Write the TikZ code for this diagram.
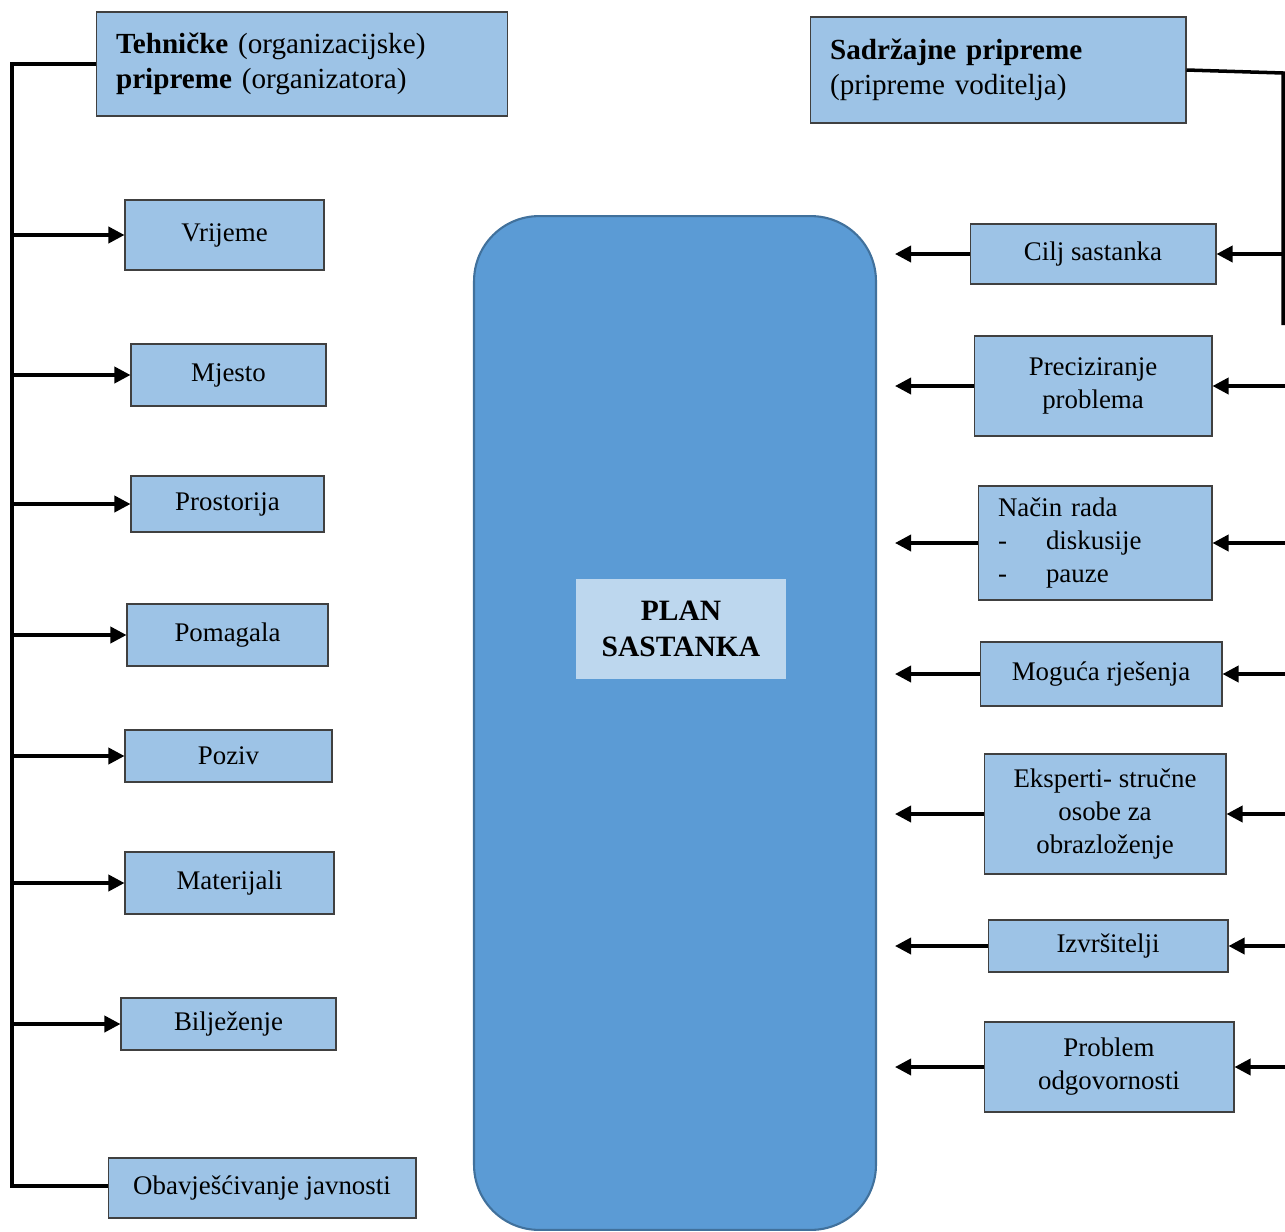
\documentclass[tikz,border=0pt]{standalone}
\usepackage{fontspec}
\setmainfont{Liberation Serif}
\usetikzlibrary{arrows.meta,calc,positioning}

\definecolor{boxblue}{HTML}{9DC3E6}
\definecolor{bigblue}{HTML}{5B9BD5}
\definecolor{bigrim}{HTML}{41719C}
\definecolor{planlight}{HTML}{BDD7EE}

\begin{document}
\begin{tikzpicture}
  [
    x=0.02cm, y=-0.02cm,
    every node/.style={font=\fontsize{15.3}{18.8}\selectfont},
    box/.style  = {draw=black!75, line width=0.6pt, fill=boxblue, align=center, inner sep=0pt},
    head/.style = {box, align=left, font=\fontsize{16.6}{20}\selectfont},
    arr/.style  = {line width=2pt, -{Triangle[length=0.32cm,width=0.32cm]}},
    lin/.style  = {line width=2pt},
  ]

  \useasboundingbox (0,0) rectangle (1285,1231);

  % the plan in the middle
  \node (plan) at (675,723) [draw=bigrim, fill=bigblue, line width=1.2pt, rounded corners=1.3cm,
        minimum width=8.04cm, minimum height=20.28cm] {};
  \node (plantxt) at (681,629) [fill=planlight, minimum width=4.2cm, minimum height=2cm,
        align=center, font=\fontsize{16.8}{20.5}\bfseries] {PLAN\\SASTANKA};

  % left column
  \node (tehn) at (302,64) [head, minimum width=8.24cm, minimum height=2.08cm, text width=7.44cm]
        {\textbf{Tehničke} (organizacijske)\\ \textbf{pripreme} (organizatora)};
  \node (vrijeme)    at (224.5,235)  [box, minimum width=3.98cm, minimum height=1.4cm]  {Vrijeme};
  \node (mjesto)     at (228.5,375)  [box, minimum width=3.9cm,  minimum height=1.24cm] {Mjesto};
  \node (prostorija) at (227.5,504)  [box, minimum width=3.86cm, minimum height=1.12cm] {Prostorija};
  \node (pomagala)   at (227.5,635)  [box, minimum width=4.02cm, minimum height=1.24cm] {Pomagala};
  \node (poziv)      at (228.5,756)  [box, minimum width=4.14cm, minimum height=1.04cm] {Poziv};
  \node (materijali) at (229.5,883)  [box, minimum width=4.18cm, minimum height=1.24cm] {Materijali};
  \node (biljezenje) at (228.5,1024) [box, minimum width=4.3cm,  minimum height=1.04cm] {Bilježenje};
  \node (obavj)      at (262,1188)   [box, minimum width=6.16cm, minimum height=1.2cm]  {Obavješćivanje javnosti};

  \coordinate (ltop) at (12,64);
  \coordinate (lbot) at (12,1186);

  \draw[lin] (tehn.west) -- (ltop) -- (lbot) -- (obavj.west |- lbot);
  \foreach \n in {vrijeme,mjesto,prostorija,pomagala,poziv,materijali,biljezenje}
    \draw[arr] (ltop |- \n.west) -- (\n.west);

  % right column
  \node (sadr) at (998,70) [head, minimum width=7.52cm, minimum height=2.12cm, text width=6.72cm]
        {\textbf{Sadržajne pripreme}\\(pripreme voditelja)};
  \node (cilj)   at (1093,254)  [box, minimum width=4.92cm, minimum height=1.2cm]  {Cilj sastanka};
  \node (preciz) at (1093,386)  [box, minimum width=4.76cm, minimum height=2cm]    {Preciziranje\\problema};
  \node (nacin)  at (1095,543)  [box, minimum width=4.68cm, minimum height=2.28cm, text width=3.88cm, align=left]
        {Način rada\\\makebox[0.96cm][l]{-}diskusije\\\makebox[0.96cm][l]{-}pauze};
  \node (moguca) at (1101,674)  [box, minimum width=4.84cm, minimum height=1.28cm] {Moguća rješenja};
  \node (eksp)   at (1105,814)  [box, minimum width=4.84cm, minimum height=2.4cm]  {Eksperti- stručne\\osobe za\\obrazloženje};
  \node (izvrs)  at (1108,946)  [box, minimum width=4.8cm,  minimum height=1.04cm] {Izvršitelji};
  \node (odgov)  at (1109,1067) [box, minimum width=5cm,    minimum height=1.8cm]  {Problem\\odgovornosti};

  \coordinate (rtop)  at (1283,73);
  \coordinate (rbot)  at (1283,325);
  \coordinate (redge) at (1285,0);
  \coordinate (lout)  at (895,0);

  \draw[lin] (sadr.east) -- (rtop) -- (rbot);
  \foreach \n in {cilj,preciz,nacin,moguca,eksp,izvrs,odgov} {
    \draw[arr] (redge |- \n.east) -- (\n.east);
    \draw[arr] (\n.west) -- (lout |- \n.west);
  }

\end{tikzpicture}
\end{document}
